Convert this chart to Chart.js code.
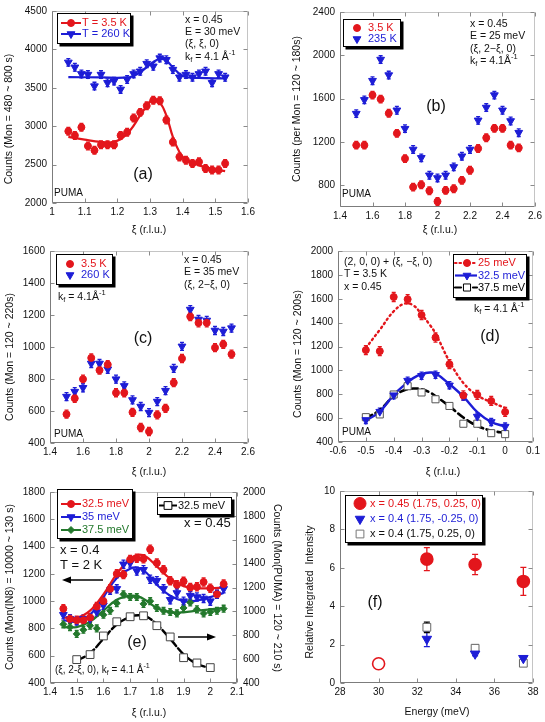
<!DOCTYPE html>
<html>
<head>
<meta charset="utf-8">
<title>Spin excitations - PUMA / IN8 scans</title>
<script src="https://cdn.jsdelivr.net/npm/chart.js@4.4.1/dist/chart.umd.min.js"></script>
<style>
  body { margin: 0; background: #fff; }
  #page { position: relative; width: 545px; height: 722px; overflow: hidden; background: #fff; }
  #page canvas { position: absolute; }
</style>
</head>
<body>
<div id="page">
  <canvas id="pA" width="270" height="240" style="left:0;top:0"></canvas>
  <canvas id="pB" width="275" height="240" style="left:270px;top:0"></canvas>
  <canvas id="pC" width="270" height="240" style="left:0;top:240px"></canvas>
  <canvas id="pD" width="275" height="240" style="left:270px;top:240px"></canvas>
  <canvas id="pE" width="290" height="242" style="left:0;top:480px"></canvas>
  <canvas id="pF" width="275" height="242" style="left:270px;top:480px"></canvas>
</div>
<script>
'use strict';

const RED = '#e3161c';
const BLUE = '#1d1dd6';
const GREEN = '#23782c';
const INK = '#111';
const FONT = '"Liberation Sans", Arial, Helvetica, sans-serif';

// ---------- (a) x = 0.45, E = 30 meV, (xi, xi, 0) ----------
const xiA = [1.05, 1.07, 1.09, 1.11, 1.13, 1.15, 1.17, 1.19, 1.21, 1.23, 1.25, 1.27, 1.29, 1.31, 1.33, 1.35, 1.37, 1.39, 1.41, 1.43, 1.45, 1.47, 1.49, 1.51, 1.53];
const lowA = [2935, 2880, 2986, 2742, 2686, 2759, 2759, 2759, 2880, 2922, 3106, 3180, 3265, 3338, 3330, 3080, 2793, 2600, 2557, 2515, 2536, 2450, 2430, 2430, 2515];
const highA = [3831, 3767, 3681, 3672, 3522, 3672, 3565, 3587, 3479, 3608, 3681, 3715, 3814, 3780, 3887, 3865, 3737, 3638, 3672, 3638, 3681, 3715, 3565, 3681, 3638];
const fitXiLowA = [1.05, 1.1, 1.15, 1.18, 1.21, 1.24, 1.27, 1.3, 1.31, 1.33, 1.35, 1.37, 1.39, 1.41, 1.45, 1.5, 1.53];
const fitLowA = [2860, 2825, 2795, 2790, 2830, 2950, 3140, 3320, 3350, 3310, 3140, 2860, 2665, 2566, 2490, 2435, 2416];
const fitXiHighA = [1.05, 1.15, 1.22, 1.25, 1.28, 1.31, 1.33, 1.35, 1.37, 1.4, 1.45, 1.53];
const fitHighA = [3640, 3635, 3632, 3655, 3735, 3835, 3875, 3855, 3765, 3655, 3628, 3622];
const ticksXA = [1, 1.1, 1.2, 1.3, 1.4, 1.5, 1.6];
const ticksYA = [2000, 2500, 3000, 3500, 4000, 4500];

// ---------- (b) x = 0.45, E = 25 meV, (xi, 2-xi, 0) ----------
const xiB = [1.5, 1.55, 1.6, 1.65, 1.7, 1.75, 1.8, 1.85, 1.9, 1.95, 2.0, 2.05, 2.1, 2.15, 2.2, 2.25, 2.3, 2.35, 2.4, 2.45, 2.5];
const lowB = [1171, 1171, 1633, 1596, 1465, 1280, 1047, 784, 806, 750, 651, 753, 769, 846, 939, 1140, 1239, 1326, 1326, 1171, 1146];
const highB = [1462, 1589, 1766, 1961, 1818, 1493, 1323, 1131, 1054, 893, 868, 893, 970, 1069, 1131, 1400, 1518, 1633, 1493, 1394, 1286];
const ticksXB = [1.4, 1.6, 1.8, 2, 2.2, 2.4, 2.6];
const ticksYB = [800, 1200, 1600, 2000, 2400];

// ---------- (c) x = 0.45, E = 35 meV, (xi, 2-xi, 0) ----------
const xiC = [1.5, 1.55, 1.6, 1.65, 1.7, 1.75, 1.8, 1.85, 1.9, 1.95, 2.0, 2.05, 2.1, 2.15, 2.2, 2.25, 2.3, 2.35, 2.4, 2.45, 2.5];
const lowC = [580, 679, 799, 932, 855, 890, 714, 714, 592, 497, 472, 576, 617, 777, 928, 1190, 1151, 1151, 996, 1017, 955];
const highC = [690, 721, 745, 897, 897, 861, 799, 757, 669, 628, 590, 659, 727, 866, 1004, 1234, 1172, 1166, 1103, 1097, 1118];
const ticksXC = [1.4, 1.6, 1.8, 2, 2.2, 2.4, 2.6];
const ticksYC = [400, 600, 800, 1000, 1200, 1400, 1600];

// ---------- (d) (2,0,0) + (xi,-xi,0), T = 3.5 K ----------
const xiD = [-0.5, -0.45, -0.4, -0.35, -0.3, -0.25, -0.2, -0.15, -0.1, -0.05, 0];
const e250D = [1170, 1161, 1615, 1596, 1464, 1275, 1052, 790, 795, 744, 652];
const e325D = [585, 654, 792, 914, 955, 963, 875, 782, 613, 568, 529];
const e375D = [608, 631, 798, 867, 815, 758, 702, 553, 553, 474, 466];
const fitXiD = [-0.5, -0.45, -0.4, -0.36, -0.33, -0.3, -0.27, -0.25, -0.2, -0.15, -0.1, -0.05, 0];
const fit250D = [1188, 1340, 1495, 1560, 1545, 1470, 1380, 1310, 1075, 895, 790, 735, 685];
const fit325D = [578, 655, 795, 880, 935, 968, 982, 976, 885, 780, 650, 568, 530];
const fit375D = [598, 668, 785, 835, 848, 843, 815, 785, 700, 605, 535, 495, 476];
const ticksXD = [-0.6, -0.5, -0.4, -0.3, -0.2, -0.1, 0, 0.1];
const ticksYD = [400, 600, 800, 1000, 1200, 1400, 1600, 1800, 2000];

// ---------- (e) x = 0.4 (IN8, left axis) and x = 0.45 (PUMA, right axis) ----------
const xiE = [1.45, 1.475, 1.5, 1.525, 1.55, 1.575, 1.6, 1.625, 1.65, 1.675, 1.7, 1.725, 1.75, 1.775, 1.8, 1.825, 1.85, 1.875, 1.9, 1.925, 1.95, 1.975, 2.0, 2.025, 2.05];
const e325E = [945, 870, 860, 860, 880, 960, 1000, 1090, 1200, 1195, 1305, 1315, 1310, 1380, 1280, 1230, 1150, 1120, 1145, 1100, 1105, 1140, 1095, 1050, 1125];
const e350E = [900, 870, 855, 870, 870, 920, 970, 1080, 1090, 1270, 1280, 1220, 1230, 1160, 1150, 1090, 1010, 1060, 1000, 1040, 1030, 1020, 1000, 1050, 1090];
const e375E = [830, 810, 760, 790, 820, 800, 900, 930, 985, 1050, 1030, 1030, 980, 1000, 950, 930, 920, 910, 950, 990, 940, 910, 920, 930, 945];
const fitXiE = [1.45, 1.5, 1.55, 1.6, 1.65, 1.7, 1.73, 1.76, 1.8, 1.85, 1.9, 1.95, 2.0, 2.05];
const fit325E = [880, 878, 930, 1050, 1200, 1310, 1340, 1325, 1255, 1165, 1110, 1095, 1095, 1100];
const fit350E = [860, 850, 900, 1030, 1170, 1238, 1245, 1210, 1120, 1040, 1000, 1005, 1030, 1060];
const fit375E = [810, 810, 850, 930, 1010, 1040, 1035, 1005, 950, 920, 918, 930, 940, 950];
const xiPumaE = [1.5, 1.55, 1.6, 1.65, 1.7, 1.75, 1.8, 1.85, 1.9, 1.95, 2.0];
const pumaE = [596, 638, 794, 913, 955, 963, 880, 786, 612, 568, 529];
const fitXiPumaE = [1.5, 1.55, 1.6, 1.65, 1.7, 1.73, 1.76, 1.8, 1.85, 1.9, 1.95, 2.0];
const fitPumaE = [585, 650, 770, 890, 955, 968, 958, 890, 770, 640, 560, 525];
const ticksXE = [1.4, 1.5, 1.6, 1.7, 1.8, 1.9, 2, 2.1];
const ticksYE = [400, 600, 800, 1000, 1200, 1400, 1600, 1800];
const ticksY2E = [400, 600, 800, 1000, 1200, 1400, 1600, 1800, 2000];

// ---------- (f) relative integrated intensity ----------
const energyF = [30, 32.5, 35, 37.5];
const relA = [1.0, 6.45, 6.17, 5.29];
const relAErr = [0.05, 0.6, 0.53, 0.73];
const relB = [1.0, 2.29, 1.52, 1.29];
const relBErr = [0, 0.4, 0.1, 0.06];
const relC = [1.0, 2.9, 1.81, 1.03];
const relCErr = [0, 0.27, 0.15, 0.15];
const ticksXF = [28, 30, 32, 34, 36, 38];
const ticksYF = [0, 2, 4, 6, 8, 10];

const DECOR = {};

function pts(xs, ys) {
  return xs.map((x, i) => ({ x: x, y: ys[i] }));
}

function fmt(v) {
  return String(Math.round(v * 1000) / 1000);
}

function drawMarker(ctx, m, x, y) {
  const r = m.r;
  ctx.save();
  ctx.lineWidth = m.bw || 1;
  ctx.strokeStyle = m.color;
  ctx.fillStyle = m.fill || m.color;
  ctx.beginPath();
  if (m.style === 'circle') {
    ctx.arc(x, y, r, 0, Math.PI * 2);
  } else if (m.style === 'triangle') {
    ctx.moveTo(x, y + r);
    ctx.lineTo(x - r * 0.866, y - r * 0.5);
    ctx.lineTo(x + r * 0.866, y - r * 0.5);
    ctx.closePath();
  } else if (m.style === 'rect') {
    const s = r * Math.SQRT1_2;
    ctx.rect(x - s, y - s, 2 * s, 2 * s);
  } else if (m.style === 'rectRot') {
    ctx.moveTo(x, y - r);
    ctx.lineTo(x + r, y);
    ctx.lineTo(x, y + r);
    ctx.lineTo(x - r, y);
    ctx.closePath();
  }
  ctx.fill();
  ctx.stroke();
  ctx.restore();
}

// text with _{sub} and ^{sup}
function drawRich(ctx, s, x, y, size, color, align) {
  const parts = s.split(/(_\{[^}]*\}|\^\{[^}]*\})/).filter(p => p.length).map(p => {
    if (p.startsWith('_{')) return { t: p.slice(2, -1), dy: size * 0.32, k: 0.72 };
    if (p.startsWith('^{')) return { t: p.slice(2, -1), dy: -size * 0.38, k: 0.72 };
    return { t: p, dy: 0, k: 1 };
  });
  let total = 0;
  parts.forEach(p => {
    ctx.font = (size * p.k) + 'px ' + FONT;
    p.w = ctx.measureText(p.t).width;
    total += p.w;
  });
  let cx = x;
  if (align === 'center') cx = x - total / 2;
  if (align === 'right') cx = x - total;
  ctx.fillStyle = color;
  ctx.textAlign = 'left';
  ctx.textBaseline = 'middle';
  parts.forEach(p => {
    ctx.font = (size * p.k) + 'px ' + FONT;
    ctx.fillText(p.t, cx, y + p.dy);
    cx += p.w;
  });
}

function drawArrow(ctx, from, to) {
  const ang = Math.atan2(to[1] - from[1], to[0] - from[0]);
  ctx.save();
  ctx.strokeStyle = '#000';
  ctx.fillStyle = '#000';
  ctx.lineWidth = 1.5;
  ctx.beginPath();
  ctx.moveTo(from[0], from[1]);
  ctx.lineTo(to[0] - Math.cos(ang) * 6, to[1] - Math.sin(ang) * 6);
  ctx.stroke();
  ctx.translate(to[0], to[1]);
  ctx.rotate(ang);
  ctx.beginPath();
  ctx.moveTo(0, 0);
  ctx.lineTo(-9, -3.5);
  ctx.lineTo(-9, 3.5);
  ctx.closePath();
  ctx.fill();
  ctx.restore();
}

function drawLegend(ctx, lg) {
  const [x0, y0, x1, y1] = lg.box;
  ctx.save();
  ctx.fillStyle = '#000';
  ctx.fillRect(x0 + 2.5, y0 + 2.5, x1 - x0, y1 - y0);
  ctx.fillStyle = '#fff';
  ctx.fillRect(x0, y0, x1 - x0, y1 - y0);
  ctx.strokeStyle = '#000';
  ctx.lineWidth = 1;
  ctx.strokeRect(x0 + 0.5, y0 + 0.5, x1 - x0 - 1, y1 - y0 - 1);
  lg.items.forEach(it => {
    if (lg.line) {
      ctx.save();
      ctx.strokeStyle = it.color;
      ctx.lineWidth = it.lw || 2;
      ctx.lineCap = it.dash ? 'round' : 'butt';
      ctx.setLineDash(it.dash || []);
      ctx.beginPath();
      ctx.moveTo(lg.line[0], it.y);
      ctx.lineTo(lg.line[1], it.y);
      ctx.stroke();
      ctx.restore();
    }
    drawMarker(ctx, { style: it.marker, r: it.r, color: it.color, fill: it.fill }, lg.mx, it.y);
    drawRich(ctx, it.text, lg.tx, it.y, lg.size || 11, it.textColor || it.color, 'left');
  });
  ctx.restore();
}

const decorPlugin = {
  id: 'decor',
  beforeDatasetsDraw(chart) {
    const { ctx, chartArea: a } = chart;
    const xs = chart.scales.x;
    const ys = chart.scales.y;
    const y2 = chart.scales.y2;
    const L = a.left + 0.5, R = a.right - 0.5, T = a.top + 0.5, B = a.bottom - 0.5;
    ctx.save();
    ctx.lineWidth = 1;
    // light top / right edges
    ctx.strokeStyle = '#c4c4c4';
    ctx.beginPath();
    ctx.moveTo(L, T); ctx.lineTo(R, T); ctx.lineTo(R, B);
    ctx.stroke();
    // inner tick marks
    ctx.strokeStyle = '#8a8a8a';
    ctx.beginPath();
    xs.ticks.forEach(t => {
      const px = Math.round(xs.getPixelForValue(t.value)) + 0.5;
      ctx.moveTo(px, B); ctx.lineTo(px, B - 4);
      ctx.moveTo(px, T); ctx.lineTo(px, T + 4);
    });
    ys.ticks.forEach(t => {
      const py = Math.round(ys.getPixelForValue(t.value)) + 0.5;
      ctx.moveTo(L, py); ctx.lineTo(L + 4, py);
      if (!y2) { ctx.moveTo(R, py); ctx.lineTo(R - 4, py); }
    });
    if (y2) {
      y2.ticks.forEach(t => {
        const py = Math.round(y2.getPixelForValue(t.value)) + 0.5;
        ctx.moveTo(R, py); ctx.lineTo(R - 4, py);
      });
    }
    ctx.stroke();
    // darker left / bottom axes (and right axis when it carries a scale)
    ctx.strokeStyle = '#7c7c7c';
    ctx.beginPath();
    ctx.moveTo(L, T); ctx.lineTo(L, B); ctx.lineTo(R, B);
    if (y2) { ctx.moveTo(R, T); ctx.lineTo(R, B); }
    ctx.stroke();

    // error bars, built from each dataset's err values through its y scale
    chart.data.datasets.forEach((ds, i) => {
      if (ds.err === undefined) return;
      const meta = chart.getDatasetMeta(i);
      const sc = meta.yScale;
      const cap = ds.cap || 2;
      ctx.strokeStyle = ds.borderColor;
      ctx.lineWidth = ds.errWidth || 1.3;
      meta.data.forEach((el, j) => {
        const e = Array.isArray(ds.err) ? ds.err[j] : ds.err;
        if (!e) return;
        const v = ds.data[j].y;
        const top = sc.getPixelForValue(v + e);
        const bot = sc.getPixelForValue(v - e);
        ctx.beginPath();
        ctx.moveTo(el.x, top); ctx.lineTo(el.x, bot);
        ctx.moveTo(el.x - cap, top); ctx.lineTo(el.x + cap, top);
        ctx.moveTo(el.x - cap, bot); ctx.lineTo(el.x + cap, bot);
        ctx.stroke();
      });
    });
    ctx.restore();
  },
  afterDraw(chart) {
    const d = DECOR[chart.canvas.id];
    if (!d) return;
    const ctx = chart.ctx;
    ctx.save();
    (d.titles || []).forEach(t => {
      ctx.save();
      ctx.translate(t.x, t.y);
      if (t.rot) ctx.rotate(t.rot * Math.PI / 180);
      drawRich(ctx, t.t, 0, 0, t.size || 10.5, INK, 'center');
      ctx.restore();
    });
    (d.texts || []).forEach(t => {
      drawRich(ctx, t.t, t.x, t.y, t.size || 10.5, t.color || INK, t.align || 'left');
    });
    (d.arrows || []).forEach(a => drawArrow(ctx, a.from, a.to));
    (d.legends || []).forEach(lg => drawLegend(ctx, lg));
    ctx.restore();
  }
};
Chart.register(decorPlugin);

function axis(min, max, list, extra) {
  return Object.assign({
    type: 'linear',
    min: min,
    max: max,
    afterBuildTicks: s => { s.ticks = list.map(v => ({ value: v })); },
    grid: { display: false, drawTicks: false },
    border: { display: false },
    ticks: {
      autoSkip: false,
      maxRotation: 0,
      color: INK,
      font: { family: FONT, size: 10 },
      callback: fmt
    }
  }, extra);
}

function makePanel(id, box, scales, datasets) {
  const canvas = document.getElementById(id);
  const W = canvas.width, H = canvas.height;
  scales.x.afterFit = s => { s.height = H - box.bottom; };
  scales.x.ticks.padding = 3;
  scales.y.afterFit = s => { s.width = box.left; };
  scales.y.ticks.padding = 5;
  if (scales.y2) {
    scales.y2.position = 'right';
    scales.y2.afterFit = s => { s.width = W - box.right; };
    scales.y2.ticks.padding = 6;
  }
  return new Chart(canvas, {
    type: 'scatter',
    data: { datasets: datasets },
    options: {
      responsive: false,
      animation: false,
      events: [],
      layout: { padding: { left: 0, top: box.top, bottom: 0, right: scales.y2 ? 0 : W - box.right } },
      plugins: { legend: { display: false }, tooltip: { enabled: false } },
      scales: scales
    }
  });
}

function points(data, color, style, r, err, extra) {
  return Object.assign({
    data: data,
    showLine: false,
    borderColor: color,
    pointStyle: style === 'triangle' ? 'triangle' : style,
    pointRotation: style === 'triangle' ? 180 : 0,
    pointRadius: r,
    pointBackgroundColor: color,
    pointBorderColor: color,
    pointBorderWidth: 1,
    err: err
  }, extra);
}

function fit(data, color, width, dash, extra) {
  return Object.assign({
    data: data,
    showLine: true,
    pointRadius: 0,
    borderColor: color,
    borderWidth: width,
    borderDash: dash || [],
    borderCapStyle: dash ? 'round' : 'butt',
    tension: 0.4
  }, extra);
}

const KF = 'k_{f} = 4.1 Å^{-1}';
const KF2 = 'k_{f} = 4.1Å^{-1}';

// ----- (a) -----
DECOR.pA = {
  titles: [
    { t: 'Counts (Mon = 480 ~ 800 s)', x: 9, y: 119, rot: -90 },
    { t: 'ξ (r.l.u.)', x: 149, y: 230 }
  ],
  texts: [
    { t: 'x = 0.45', x: 185, y: 20 },
    { t: 'E = 30 meV', x: 185, y: 32 },
    { t: '(ξ, ξ, 0)', x: 185, y: 44.5 },
    { t: KF, x: 185, y: 57 },
    { t: '(a)', x: 143, y: 175, size: 16, align: 'center' },
    { t: 'PUMA', x: 54, y: 193, size: 10 }
  ],
  legends: [{
    box: [57, 13, 131, 44], line: [61, 81], mx: 71, tx: 82, size: 11,
    items: [
      { y: 23, color: RED, marker: 'circle', r: 3.5, text: 'T = 3.5 K' },
      { y: 34, color: BLUE, marker: 'triangle', r: 4.5, text: 'T = 260 K' }
    ]
  }]
};
makePanel('pA', { left: 52, right: 248, top: 9, bottom: 203 }, {
  x: axis(1, 1.6, ticksXA),
  y: axis(2000, 4500, ticksYA)
}, [
  points(pts(xiA, lowA), RED, 'circle', 3.5, 50),
  points(pts(xiA, highA), BLUE, 'triangle', 4.5, 50),
  fit(pts(fitXiLowA, fitLowA), RED, 2.2),
  fit(pts(fitXiHighA, fitHighA), BLUE, 2.2)
]);

// ----- (b) -----
DECOR.pB = {
  titles: [
    { t: 'Counts (per Mon = 120 ~ 180s)', x: 27, y: 109, rot: -90 },
    { t: 'ξ (r.l.u.)', x: 170, y: 230 }
  ],
  texts: [
    { t: 'x = 0.45', x: 200, y: 24 },
    { t: 'E = 25 meV', x: 200, y: 36 },
    { t: '(ξ, 2−ξ, 0)', x: 200, y: 49 },
    { t: KF2, x: 200, y: 61 },
    { t: '(b)', x: 166, y: 107, size: 16, align: 'center' },
    { t: 'PUMA', x: 72, y: 194, size: 10 }
  ],
  legends: [{
    box: [73, 19, 131, 47], mx: 87, tx: 98, size: 11,
    items: [
      { y: 28, color: RED, marker: 'circle', r: 3.5, text: '3.5 K' },
      { y: 39, color: BLUE, marker: 'triangle', r: 4.5, text: '235 K' }
    ]
  }]
};
makePanel('pB', { left: 70, right: 265, top: 12, bottom: 207 }, {
  x: axis(1.4, 2.6, ticksXB),
  y: axis(600, 2400, ticksYB)
}, [
  points(pts(xiB, lowB), RED, 'circle', 3.5, 35),
  points(pts(xiB, highB), BLUE, 'triangle', 4.5, 35)
]);

// ----- (c) -----
DECOR.pC = {
  titles: [
    { t: 'Counts (Mon = 120 ~ 220s)', x: 10, y: 117, rot: -90 },
    { t: 'ξ (r.l.u.)', x: 149, y: 232 }
  ],
  texts: [
    { t: 'x = 0.45', x: 184, y: 20 },
    { t: 'E = 35 meV', x: 184, y: 32.5 },
    { t: '(ξ, 2−ξ, 0)', x: 184, y: 45 },
    { t: KF2, x: 58, y: 57 },
    { t: '(c)', x: 143, y: 99, size: 16, align: 'center' },
    { t: 'PUMA', x: 54, y: 194, size: 10 }
  ],
  legends: [{
    box: [56, 14, 113, 45], mx: 70, tx: 81, size: 11,
    items: [
      { y: 24, color: RED, marker: 'circle', r: 3.5, text: '3.5 K' },
      { y: 35, color: BLUE, marker: 'triangle', r: 4.5, text: '260 K' }
    ]
  }]
};
makePanel('pC', { left: 50, right: 248, top: 10, bottom: 203 }, {
  x: axis(1.4, 2.6, ticksXC),
  y: axis(400, 1600, ticksYC)
}, [
  points(pts(xiC, lowC), RED, 'circle', 3.5, 25),
  points(pts(xiC, highC), BLUE, 'triangle', 4.5, 25)
]);

// ----- (d) -----
DECOR.pD = {
  titles: [
    { t: 'Counts (Mon = 120 ~ 200s)', x: 28, y: 114, rot: -90 },
    { t: 'ξ (r.l.u.)', x: 173, y: 232 }
  ],
  texts: [
    { t: '(2, 0, 0) + (ξ, −ξ, 0)', x: 74, y: 22 },
    { t: 'T = 3.5 K', x: 74, y: 34 },
    { t: 'x = 0.45', x: 74, y: 47 },
    { t: KF, x: 204, y: 69 },
    { t: '(d)', x: 220, y: 97, size: 16, align: 'center' },
    { t: 'PUMA', x: 72, y: 192, size: 10 }
  ],
  legends: [{
    box: [183, 14, 257, 58], line: [185, 207], mx: 197, tx: 208, size: 11,
    items: [
      { y: 23, color: RED, marker: 'circle', r: 3.5, dash: [1.5, 3], lw: 2.2, text: '25 meV' },
      { y: 35.5, color: BLUE, marker: 'triangle', r: 4.5, lw: 2.2, text: '32.5 meV' },
      { y: 47.5, color: '#000', marker: 'rect', r: 5, fill: '#fff', dash: [6, 3], lw: 2.2, text: '37.5 meV' }
    ]
  }]
};
makePanel('pD', { left: 68, right: 263, top: 8, bottom: 202 }, {
  x: axis(-0.6, 0.1, ticksXD),
  y: axis(400, 2000, ticksYD)
}, [
  points(pts(xiD, e250D), RED, 'circle', 3.5, 38),
  points(pts(xiD, e325D), BLUE, 'triangle', 4.5, 30),
  points(pts(xiD, e375D), '#000', 'rect', 5, 0, { pointBackgroundColor: '#fff', pointBorderColor: '#555' }),
  fit(pts(fitXiD, fit250D), RED, 2.4, [1.5, 3.5]),
  fit(pts(fitXiD, fit325D), BLUE, 2.4),
  fit(pts(fitXiD, fit375D), '#000', 2.6, [7, 4])
]);

// ----- (e) -----
DECOR.pE = {
  titles: [
    { t: 'Counts (Mon(IN8) = 10000 ~ 130 s)', x: 10, y: 107, rot: -90 },
    { t: 'Counts (Mon(PUMA) = 120 ~ 210 s)', x: 277, y: 108, rot: 90 },
    { t: 'ξ (r.l.u.)', x: 149, y: 233 }
  ],
  texts: [
    { t: 'x = 0.45', x: 184, y: 43, size: 13 },
    { t: 'x = 0.4', x: 60, y: 70, size: 13 },
    { t: 'T = 2 K', x: 60, y: 85, size: 13 },
    { t: '(e)', x: 137, y: 163, size: 16, align: 'center' },
    { t: '(ξ, 2-ξ, 0), ' + KF, x: 55, y: 190, size: 10 }
  ],
  arrows: [
    { from: [103, 100], to: [62, 100] },
    { from: [178, 157], to: [216, 157] }
  ],
  legends: [{
    box: [57, 9, 133, 59], line: [61, 81], mx: 71, tx: 82, size: 11,
    items: [
      { y: 24, color: RED, marker: 'circle', r: 3.5, text: '32.5 meV' },
      { y: 37, color: BLUE, marker: 'triangle', r: 4.5, text: '35 meV' },
      { y: 50, color: GREEN, marker: 'rectRot', r: 3.5, text: '37.5 meV' }
    ]
  }, {
    box: [157, 17, 232, 35], line: [159, 177], mx: 168, tx: 178, size: 11,
    items: [
      { y: 25.5, color: '#000', marker: 'rect', r: 5.5, fill: '#fff', text: '32.5 meV', textColor: INK }
    ]
  }]
};
makePanel('pE', { left: 50, right: 237, top: 10, bottom: 203 }, {
  x: axis(1.4, 2.1, ticksXE),
  y: axis(400, 1800, ticksYE),
  y2: axis(400, 2000, ticksY2E)
}, [
  points(pts(xiPumaE, pumaE), '#000', 'rect', 5.5, 0, { yAxisID: 'y2', pointBackgroundColor: '#fff', pointBorderColor: '#444' }),
  points(pts(xiE, e325E), RED, 'circle', 3.5, 30),
  points(pts(xiE, e350E), BLUE, 'triangle', 4.5, 30),
  points(pts(xiE, e375E), GREEN, 'rectRot', 3.5, 25),
  fit(pts(fitXiE, fit325E), RED, 2.2),
  fit(pts(fitXiE, fit350E), BLUE, 2.2),
  fit(pts(fitXiE, fit375E), GREEN, 2.2),
  fit(pts(fitXiPumaE, fitPumaE), '#000', 2.4, [9, 3], { yAxisID: 'y2' })
]);

// ----- (f) -----
DECOR.pF = {
  titles: [
    { t: 'Relative Integrated  Intensity', x: 40, y: 112, rot: -90 },
    { t: 'Energy (meV)', x: 167, y: 232 }
  ],
  texts: [
    { t: '(f)', x: 105, y: 123, size: 16, align: 'center' }
  ],
  legends: [{
    box: [75, 15, 213, 63], mx: 90, tx: 100, size: 11,
    items: [
      { y: 23.5, color: RED, marker: 'circle', r: 6, text: 'x = 0.45 (1.75, 0.25, 0)' },
      { y: 39, color: BLUE, marker: 'triangle', r: 5.5, text: 'x = 0.4 (1.75, -0.25, 0)' },
      { y: 54, color: '#777', marker: 'rect', r: 5.5, fill: '#fff', text: 'x = 0.4 (1.75, 0.25, 0)', textColor: INK }
    ]
  }]
};
makePanel('pF', { left: 70, right: 263, top: 10, bottom: 203 }, {
  x: axis(28, 38, ticksXF),
  y: axis(0, 10, ticksYF)
}, [
  points(pts(energyF, relA), RED, 'circle', 6, relAErr, { pointBackgroundColor: ['#fff', RED, RED, RED], pointBorderWidth: 1.6, cap: 3 }),
  points(pts(energyF, relB), BLUE, 'triangle', 5.5, relBErr, { cap: 3 }),
  points(pts(energyF, relC), '#000', 'rect', 5.5, relCErr, { pointBackgroundColor: '#fff', pointBorderColor: '#666', cap: 3 })
]);
</script>
</body>
</html>
